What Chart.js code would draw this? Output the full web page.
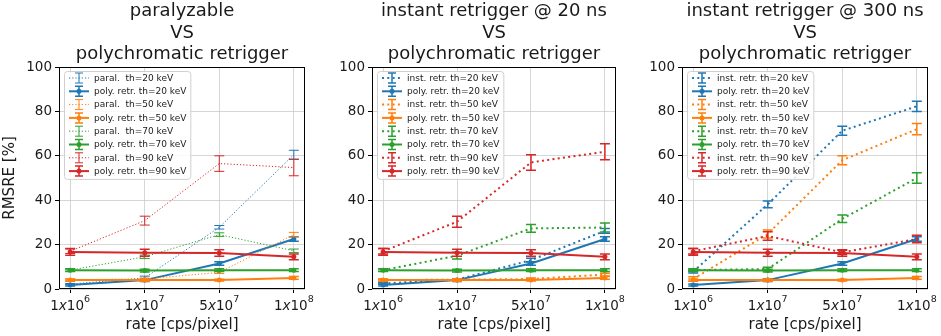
<!DOCTYPE html>
<html lang="en">
<head>
  <meta charset="UTF-8">
  <title>RMSRE vs rate</title>
  <script src="https://cdn.jsdelivr.net/npm/chart.js"></script>
  <style>
    body { margin: 0; background: #fff; }
    .wrap { position: relative; width: 941px; height: 336px; }
    .wrap canvas { position: absolute; top: 0; }
  </style>
</head>
<body>
  <div class="wrap">
    <canvas id="c1" width="320" height="336" style="left:0"></canvas>
    <canvas id="c2" width="310" height="336" style="left:320px"></canvas>
    <canvas id="c3" width="311" height="336" style="left:630px"></canvas>
  </div>

  <script>
    // x categories: 1x10^6, 1x10^7, 5x10^7, 1x10^8 cps/pixel
    var rateBase = ['1', '1', '5', '1'];
    var rateExp = ['6', '7', '7', '8'];
    var thresholds = [20, 50, 70, 90];
    var yTicks = [0, 20, 40, 60, 80, 100];
    var colors = ['#1f77b4', '#ff7f0e', '#2ca02c', '#d62728'];

    // polychromatic retrigger (same curves in every panel)
    var poly20 = [1.8, 4.0, 11.5, 22.5];
    var poly50 = [4.0, 4.0, 4.0, 5.0];
    var poly70 = [8.5, 8.3, 8.5, 8.5];
    var poly90 = [16.7, 16.3, 16.2, 14.5];
    var poly20Err = [0.5, 0.6, 0.8, 1.0];
    var poly50Err = [0.5, 0.5, 0.4, 0.6];
    var poly70Err = [0.6, 0.6, 0.6, 0.6];
    var poly90Err = [1.5, 1.6, 1.5, 1.3];

    // paralyzable
    var paral20 = [2.2, 5.0, 27.8, 60.5];
    var paral50 = [4.2, 4.5, 7.5, 24.5];
    var paral70 = [8.5, 14.5, 24.5, 17.2];
    var paral90 = [17.0, 30.8, 56.5, 54.7];
    var paral20Err = [0.3, 0.8, 0.8, 2.0];
    var paral50Err = [0.3, 0.4, 0.5, 1.0];
    var paral70Err = [0.4, 0.8, 0.8, 0.8];
    var paral90Err = [1.0, 2.0, 3.5, 3.7];

    // instant retrigger @ 20 ns
    var inst20ns20 = [2.5, 4.2, 13.0, 26.2];
    var inst20ns50 = [4.0, 4.2, 4.5, 6.5];
    var inst20ns70 = [8.5, 15.0, 27.3, 27.7];
    var inst20ns90 = [17.0, 30.3, 57.0, 61.8];
    var inst20ns20Err = [0.4, 0.4, 0.8, 1.1];
    var inst20ns50Err = [0.4, 0.4, 0.4, 0.6];
    var inst20ns70Err = [0.5, 1.5, 1.7, 2.0];
    var inst20ns90Err = [1.2, 2.5, 3.5, 3.6];

    // instant retrigger @ 300 ns
    var inst300ns20 = [7.8, 38.1, 71.3, 82.3];
    var inst300ns50 = [4.5, 24.8, 58.0, 72.0];
    var inst300ns70 = [8.5, 9.0, 31.6, 50.0];
    var inst300ns90 = [17.0, 23.9, 16.5, 22.5];
    var inst300ns20Err = [0.6, 1.5, 2.0, 2.3];
    var inst300ns50Err = [1.0, 1.8, 2.0, 2.5];
    var inst300ns70Err = [0.5, 0.8, 1.7, 2.4];
    var inst300ns90Err = [1.2, 1.9, 1.0, 1.7];

    var polyAll = [poly20, poly50, poly70, poly90];
    var polyErrAll = [poly20Err, poly50Err, poly70Err, poly90Err];

    var FONT = '"DejaVu Sans", sans-serif';
    var TXT = '#1a1a1a';

    // draws error bars right after each dataset so stacking matches
    var errorBars = {
      id: 'errorBars',
      afterDatasetDraw: function(chart, args) {
        var ds = chart.data.datasets[args.index];
        var y = chart.scales.y;
        var ctx = chart.ctx;
        ctx.save();
        ctx.strokeStyle = ds.borderColor;
        ctx.lineWidth = ds.errWidth;
        args.meta.data.forEach(function(pt, i) {
          var v = ds.data[i].y, e = ds.err[i];
          var t = y.getPixelForValue(v + e), b = y.getPixelForValue(v - e);
          ctx.beginPath();
          ctx.moveTo(pt.x, t); ctx.lineTo(pt.x, b);
          ctx.moveTo(pt.x - 5, t); ctx.lineTo(pt.x + 5, t);
          ctx.moveTo(pt.x - 5, b); ctx.lineTo(pt.x + 5, b);
          ctx.stroke();
        });
        ctx.restore();
      }
    };

    var decor = {
      id: 'decor',
      afterDatasetsDraw: function(chart) {
        var a = chart.chartArea, ctx = chart.ctx;
        ctx.save();
        ctx.strokeStyle = '#000';
        ctx.lineWidth = 1;
        ctx.strokeRect(Math.round(a.left) + 0.5, Math.round(a.top) + 0.5,
          Math.round(a.right - a.left) - 1, Math.round(a.bottom - a.top) - 1);
        ctx.restore();
      },
      afterDraw: function(chart) {
        var a = chart.chartArea, ctx = chart.ctx;
        var opts = chart.options.plugins.decor;
        ctx.save();
        ctx.fillStyle = TXT;

        // title, centred on the axes
        ctx.font = '18px ' + FONT;
        ctx.textAlign = 'center';
        ctx.textBaseline = 'alphabetic';
        var cx = (a.left + a.right) / 2;
        opts.title.forEach(function(line, i) {
          ctx.fillText(line, cx, 16 + i * 21.5);
        });

        // x tick labels like 1x10^6
        var xs = chart.scales.x;
        ctx.textAlign = 'left';
        rateBase.forEach(function(b, i) {
          var px = xs.getPixelForValue(i);
          ctx.font = '13.5px ' + FONT;
          var w1 = ctx.measureText(b).width;
          var w10 = ctx.measureText('10').width;
          ctx.font = 'italic 13.5px ' + FONT;
          var wx = ctx.measureText('x').width;
          ctx.font = '9.5px ' + FONT;
          var we = ctx.measureText(rateExp[i]).width;
          var x0 = px - (w1 + wx + w10 + we) / 2;
          ctx.font = '13.5px ' + FONT;
          ctx.fillText(b, x0, 309.5);
          ctx.font = 'italic 13.5px ' + FONT;
          ctx.fillText('x', x0 + w1, 309.5);
          ctx.font = '13.5px ' + FONT;
          ctx.fillText('10', x0 + w1 + wx, 309.5);
          ctx.font = '9.5px ' + FONT;
          ctx.fillText(rateExp[i], x0 + w1 + wx + w10, 302);
        });

        // legend box, top-left inside the axes
        var dss = chart.data.datasets;
        ctx.font = '9px ' + FONT;
        var tw = 0;
        dss.forEach(function(d) { tw = Math.max(tw, ctx.measureText(d.label).width); });
        var bx = a.left + 5, by = a.top + 4, bw = tw + 34, rowH = 13.3, bh = dss.length * rowH + 1.5;
        ctx.fillStyle = 'rgba(255,255,255,0.85)';
        ctx.strokeStyle = '#d0d0d0';
        ctx.lineWidth = 1;
        ctx.beginPath();
        ctx.roundRect(bx + 0.5, by + 0.5, bw, bh, 3);
        ctx.fill();
        ctx.stroke();
        dss.forEach(function(d, i) {
          var ry = by + 7 + i * rowH;
          var hx = bx + 15;
          ctx.strokeStyle = d.borderColor;
          ctx.lineWidth = d.borderWidth;
          ctx.setLineDash(d.borderDash || []);
          ctx.beginPath();
          ctx.moveTo(hx - 10, ry); ctx.lineTo(hx + 10, ry);
          ctx.stroke();
          ctx.setLineDash([]);
          ctx.lineWidth = d.errWidth;
          ctx.beginPath();
          ctx.moveTo(hx, ry - 5); ctx.lineTo(hx, ry + 5);
          ctx.moveTo(hx - 4, ry - 5); ctx.lineTo(hx + 4, ry - 5);
          ctx.moveTo(hx - 4, ry + 5); ctx.lineTo(hx + 4, ry + 5);
          ctx.stroke();
          if (d.pointRadius > 0) {
            ctx.fillStyle = d.borderColor;
            ctx.beginPath();
            ctx.arc(hx, ry, d.pointRadius, 0, Math.PI * 2);
            ctx.fill();
          }
          ctx.fillStyle = TXT;
          ctx.textBaseline = 'middle';
          ctx.fillText(d.label, bx + 30, ry + 0.5);
        });
        ctx.restore();
      }
    };

    function toPoints(arr) {
      return arr.map(function(v, i) { return { x: i, y: v }; });
    }

    function buildDatasets(other, otherErr, prefix, thin) {
      var list = [];
      thresholds.forEach(function(th, k) {
        list.push({
          label: prefix + 'th=' + th + ' keV',
          data: toPoints(other[k]),
          err: otherErr[k],
          borderColor: colors[k],
          backgroundColor: colors[k],
          borderWidth: thin ? 1 : 2,
          borderDash: thin ? [1.2, 2] : [2, 3.3],
          errWidth: thin ? 1 : 1.5,
          pointRadius: 0
        });
        list.push({
          label: 'poly. retr. th=' + th + ' keV',
          data: toPoints(polyAll[k]),
          err: polyErrAll[k],
          borderColor: colors[k],
          backgroundColor: colors[k],
          borderWidth: 2,
          errWidth: 1.5,
          pointRadius: 2.5
        });
      });
      // later series on top, as in the original plot
      list.forEach(function(d, i) {
        d.order = list.length - i;
        d.pointBorderWidth = 0;
        d.pointHoverRadius = 0;
        d.tension = 0;
        d.fill = false;
      });
      return list;
    }

    function makeChart(id, title, datasets, yTitle, yw, rp) {
      return new Chart(document.getElementById(id), {
        type: 'line',
        data: { datasets: datasets },
        plugins: [errorBars, decor],
        options: {
          responsive: false,
          animation: false,
          events: [],
          layout: { padding: { top: 67, right: rp, left: 0, bottom: 0 } },
          plugins: {
            legend: { display: false },
            tooltip: { enabled: false },
            decor: { title: title }
          },
          scales: {
            x: {
              type: 'linear',
              min: -0.15,
              max: 3.15,
              afterBuildTicks: function(s) { s.ticks = [0, 1, 2, 3].map(function(v) { return { value: v }; }); },
              afterFit: function(s) { s.height = 47; },
              ticks: { display: false },
              grid: { color: '#cccccc', lineWidth: 0.8, drawTicks: true, tickLength: 4, tickColor: '#000', tickWidth: 1 },
              border: { display: false },
              title: { display: true, text: 'rate [cps/pixel]', color: TXT, font: { family: FONT, size: 15 }, padding: { top: 0, bottom: 2 } }
            },
            y: {
              min: 0,
              max: 100,
              afterBuildTicks: function(s) { s.ticks = yTicks.map(function(v) { return { value: v }; }); },
              afterFit: function(s) { s.width = yw; },
              ticks: { color: TXT, font: { family: FONT, size: 13.5 }, padding: 3 },
              grid: { color: '#cccccc', lineWidth: 0.8, drawTicks: true, tickLength: 4, tickColor: '#000', tickWidth: 1 },
              border: { display: false },
              title: { display: yTitle, text: 'RMSRE [%]', color: TXT, font: { family: FONT, size: 15 }, padding: 1 }
            }
          }
        }
      });
    }

    makeChart('c1', ['paralyzable', 'VS', 'polychromatic retrigger'],
      buildDatasets([paral20, paral50, paral70, paral90], [paral20Err, paral50Err, paral70Err, paral90Err], 'paral.  ', true),
      true, 59, 15);

    makeChart('c2', ['instant retrigger @ 20 ns', 'VS', 'polychromatic retrigger'],
      buildDatasets([inst20ns20, inst20ns50, inst20ns70, inst20ns90], [inst20ns20Err, inst20ns50Err, inst20ns70Err, inst20ns90Err], 'inst. retr. ', false),
      false, 52, 14);

    makeChart('c3', ['instant retrigger @ 300 ns', 'VS', 'polychromatic retrigger'],
      buildDatasets([inst300ns20, inst300ns50, inst300ns70, inst300ns90], [inst300ns20Err, inst300ns50Err, inst300ns70Err, inst300ns90Err], 'inst. retr. ', false),
      false, 52, 13);
  </script>
</body>
</html>
